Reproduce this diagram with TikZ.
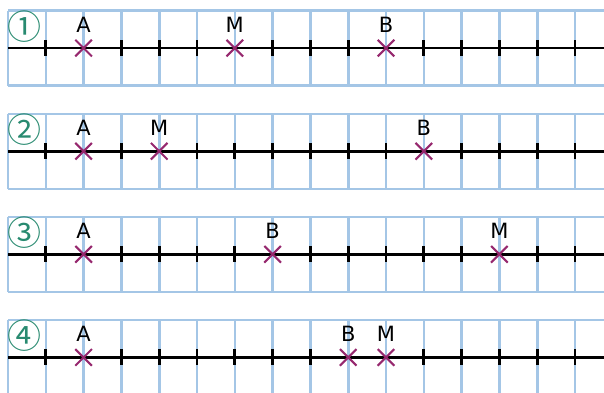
\documentclass[tikz,border=0pt]{standalone}
\usepackage{fontspec}
\setmainfont{DejaVu Sans}
\newfontfamily\cjknum{Noto Sans CJK JP}
\usetikzlibrary{shapes.misc}
\definecolor{gridblue}{RGB}{164,198,230}
\definecolor{crossc}{RGB}{150,40,110}
\definecolor{numc}{RGB}{40,138,112}
\tikzset{
  gridline/.style={draw=gridblue, line width=2.6pt},
  axisline/.style={draw=black, line width=2.7pt},
  tickmark/.style={draw=black, line width=2.7pt},
  ptcross/.style={cross out, draw=crossc, line width=2.1pt, minimum size=14.5pt, inner sep=0pt},
  ptlabel/.style={anchor=base, inner sep=0pt, font=\fontsize{21}{21}\selectfont},
  numlabel/.style={inner sep=0pt, text=numc, font=\cjknum\fontsize{34}{34}\selectfont}
}
\begin{document}
\begin{tikzpicture}[x=1pt,y=-1pt]
\useasboundingbox (0,0) rectangle (604,392);
\clip (0,0) rectangle (604,392);
\foreach \i/\num/\tk/\pa/\pm/\pb in {
  1/①/{1,3,4,5,7,8,9,11,12,13,14,15}/2/6/10,
  2/②/{1,3,5,6,7,8,9,10,12,13,14,15}/2/4/11,
  3/③/{1,3,4,5,6,8,9,10,11,12,14,15}/2/13/7,
  4/④/{1,3,4,5,6,7,8,11,12,13,14,15}/2/10/9}{
  \pgfmathsetmacro{\t}{10.7+103.1*(\i-1)}
  \pgfmathsetmacro{\ax}{\t+37.4}
  \pgfmathsetmacro{\bt}{\t+75}
  % grid
  \draw[gridline] (8,\t) -- (604,\t);
  \draw[gridline] (8,\bt) -- (604,\bt);
  \foreach \k in {0,...,15}{
    \draw[gridline] ({8+37.8*\k},\t) -- ({8+37.8*\k},\bt);
  }
  % axis
  \coordinate (s\i) at (8,\ax);
  \coordinate (e\i) at (604,\ax);
  \draw[axisline] (s\i) -- (e\i);
  \foreach \k in \tk{
    \draw[tickmark] ({8+37.8*\k},{\ax-8}) -- ({8+37.8*\k},{\ax+8});
  }
  % number
  \node[numlabel] (n\i) at (24.5,{\t+15.5}) {\num};
  % points
  \node[ptcross] (A\i) at ({8+37.8*\pa},\ax) {};
  \node[ptcross] (M\i) at ({8+37.8*\pm},\ax) {};
  \node[ptcross] (B\i) at ({8+37.8*\pb},\ax) {};
  \node[ptlabel] (LA\i) at ({8+37.8*\pa},{\ax-15.6}) {A};
  \node[ptlabel] (LM\i) at ({8+37.8*\pm},{\ax-15.6}) {M};
  \node[ptlabel] (LB\i) at ({8+37.8*\pb},{\ax-15.6}) {B};
}
\end{tikzpicture}
\end{document}
